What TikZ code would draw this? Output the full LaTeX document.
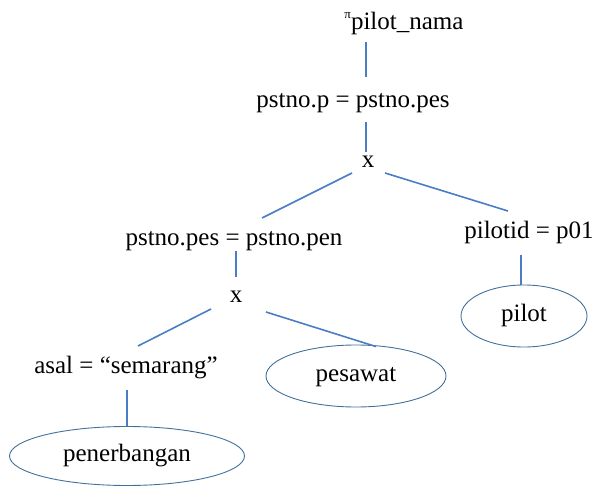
\documentclass[tikz,border=0pt]{standalone}
\usepackage{fontspec}
\setmainfont{Liberation Serif}
\usetikzlibrary{shapes.geometric}
\definecolor{linkblue}{HTML}{4A7EC4}
\definecolor{ellblue}{HTML}{41719C}
\begin{document}
\begin{tikzpicture}[x=1pt,y=-1pt,
  lbl/.style={inner sep=0pt,anchor=base,font=\fontsize{25}{28}\selectfont},
  rel/.style={draw=ellblue,line width=0.9pt,ellipse,inner sep=0pt,
    font=\fontsize{25}{28}\selectfont,text height=17pt,text depth=5.5pt},
  conn/.style={draw=linkblue,line width=1.6pt}]
\useasboundingbox (0,0) rectangle (594,486);
% labels
\node[lbl] (proj) at (404,30) {\raisebox{11pt}{\fontsize{13}{13}\selectfont π}pilot\_nama};
\node[lbl] (sel1) at (353,108) {pstno.p = pstno.pes};
\node[lbl] (x1) at (368,168) {x};
\node[lbl] (sel2) at (234,246) {pstno.pes = pstno.pen};
\node[lbl] (sel3) at (529,239) {pilotid = p01};
\node[lbl] (x2) at (236,302) {x};
\node[lbl] (sel4) at (126,373) {asal = “semarang”};
% relations
\node[rel,minimum width=235pt,minimum height=59pt] (penerbangan) at (127,456) {penerbangan};
\node[rel,minimum width=180pt,minimum height=62pt] (pesawat) at (356,376) {pesawat};
\node[rel,minimum width=126pt,minimum height=62pt] (pilot) at (524,316) {pilot};
% connectors
\draw[conn] ([shift={(-38,12)}]proj.base) -- ([shift={(13,-31)}]sel1.base);
\draw[conn] ([shift={(13,14)}]sel1.base) -- ([shift={(-2,-16)}]x1.base);
\draw[conn] ([shift={(-16,5)}]x1.base) -- ([shift={(28,-28)}]sel2.base);
\draw[conn] ([shift={(17,5)}]x1.base) -- ([shift={(-21,-28)}]sel3.base);
\draw[conn] ([shift={(2,5)}]sel2.base) -- ([shift={(0,-25)}]x2.base);
\draw[conn] ([shift={(-25,7)}]x2.base) -- ([shift={(12,-27)}]sel4.base);
\draw[conn] ([shift={(30,10)}]x2.base) -- ([shift={(20,2)}]pesawat.north);
\draw[conn] ([shift={(1,17)}]sel4.base) -- (penerbangan.north);
\draw[conn] ([shift={(-8,16)}]sel3.base) -- ([shift={(-3,0)}]pilot.north);
\end{tikzpicture}
\end{document}
